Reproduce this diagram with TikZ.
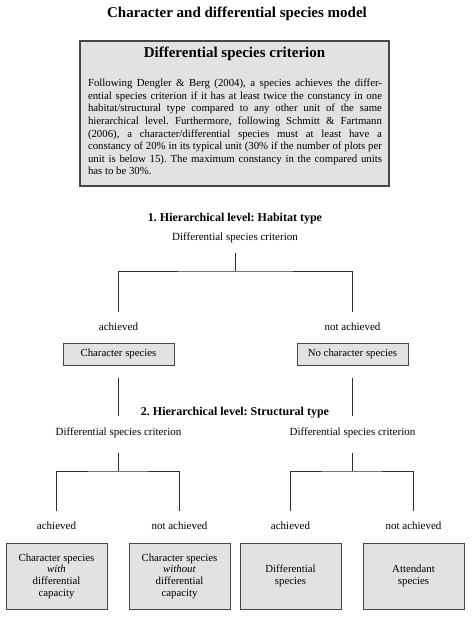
\documentclass[tikz,border=0pt]{standalone}
\usepackage{fontspec}
\setmainfont{Liberation Serif}
\definecolor{boxfill}{RGB}{226,226,226}
\definecolor{boxline}{RGB}{70,70,70}
\definecolor{lin}{RGB}{45,45,45}
\begin{document}
\frenchspacing
\begin{tikzpicture}[x=1pt,y=-1pt,
  lbl/.style={inner sep=0pt, font=\fontsize{11}{13}\selectfont, text height=7.5pt, text depth=2.5pt},
  hd/.style={inner sep=0pt, font=\bfseries\fontsize{12}{14}\selectfont},
  big/.style={inner sep=0pt, font=\bfseries\fontsize{15}{18}\selectfont},
  conn/.style={draw=lin, line width=0.9pt},
  sbox/.style={draw=boxline, fill=boxfill, line width=1pt, inner sep=0pt, font=\fontsize{10.8}{11.7}\selectfont, align=center},
  wide/.style={minimum width=111pt, minimum height=22pt},
  tall/.style={minimum width=101pt, minimum height=66pt},
]
\useasboundingbox[fill=white] (0,0) rectangle (474,620);
\node[big] (title) at (237,14) {Character and differential species model};
\node[draw=boxline, fill=boxfill, line width=1.4pt, minimum width=309pt, minimum height=145pt, inner sep=0pt] (crit) at (234.5,113.5) {};
\node[big] (crithead) at (234.5,54) {Differential species criterion};
\node[text width=294pt, inner sep=0pt, align=justify, font=\fontsize{10.8}{12.6}\selectfont] (critbody) at (235,127) {Following Dengler \& Berg (2004), a species achieves the differ-\linebreak ential species criterion if it has at least twice the constancy in one\linebreak habitat/structural type compared to any other unit of the same\linebreak hierarchical level. Furthermore, following Schmitt \& Fartmann\linebreak (2006), a character/differential species must at least have a\linebreak constancy of 20\% in its typical unit (30\% if the number of plots per\linebreak unit is below 15). The maximum constancy in the compared units\linebreak has to be 30\%.};
% level 1
\node[hd] (lev1) at (235,219) {1. Hierarchical level: Habitat type};
\node[lbl] (crit1) at (235,238) {Differential species criterion};
\coordinate (j1) at (235,271);
\node[lbl] (ach1) at (118.5,328) {achieved};
\node[lbl] (nach1) at (352.5,328) {not achieved};
\node[sbox, wide] (cs) at (118.5,354) {Character species};
\node[sbox, wide] (ncs) at (352.5,354) {No character species};
\draw[conn, shorten <=10pt] (crit1.south) -- (j1);
\draw[conn, shorten <=11pt, shorten >=11pt] (ach1.north) |- (j1) -| (nach1.north);
% level 2
\node[hd] (lev2) at (235,413) {2. Hierarchical level: Structural type};
\node[lbl] (crit2a) at (118.5,433) {Differential species criterion};
\node[lbl] (crit2b) at (352.5,433) {Differential species criterion};
\draw[conn, shorten <=12pt, shorten >=12pt] (cs.south) -- (crit2a.north);
\draw[conn, shorten <=12pt, shorten >=12pt] (ncs.south) -- (crit2b.north);
\coordinate (j2a) at (118.5,471);
\coordinate (j2b) at (352.5,471);
\node[lbl] (ach2a) at (56.5,527) {achieved};
\node[lbl] (nach2a) at (179.5,527) {not achieved};
\node[lbl] (ach2b) at (290.5,527) {achieved};
\node[lbl] (nach2b) at (413.5,527) {not achieved};
\draw[conn, shorten <=15pt] (crit2a.south) -- (j2a);
\draw[conn, shorten <=15pt] (crit2b.south) -- (j2b);
\draw[conn, shorten <=11pt, shorten >=11pt] (ach2a.north) |- (j2a) -| (nach2a.north);
\draw[conn, shorten <=11pt, shorten >=11pt] (ach2b.north) |- (j2b) -| (nach2b.north);
\node[sbox, tall] (cwd) at (56.5,576) {Character species\\\textit{with}\\differential\\capacity};
\node[sbox, tall] (cwo) at (179.5,576) {Character species\\\textit{without}\\differential\\capacity};
\node[sbox, tall] (dif) at (290.5,576) {Differential\\species};
\node[sbox, tall] (att) at (413.5,576) {Attendant\\species};
\end{tikzpicture}
\end{document}
